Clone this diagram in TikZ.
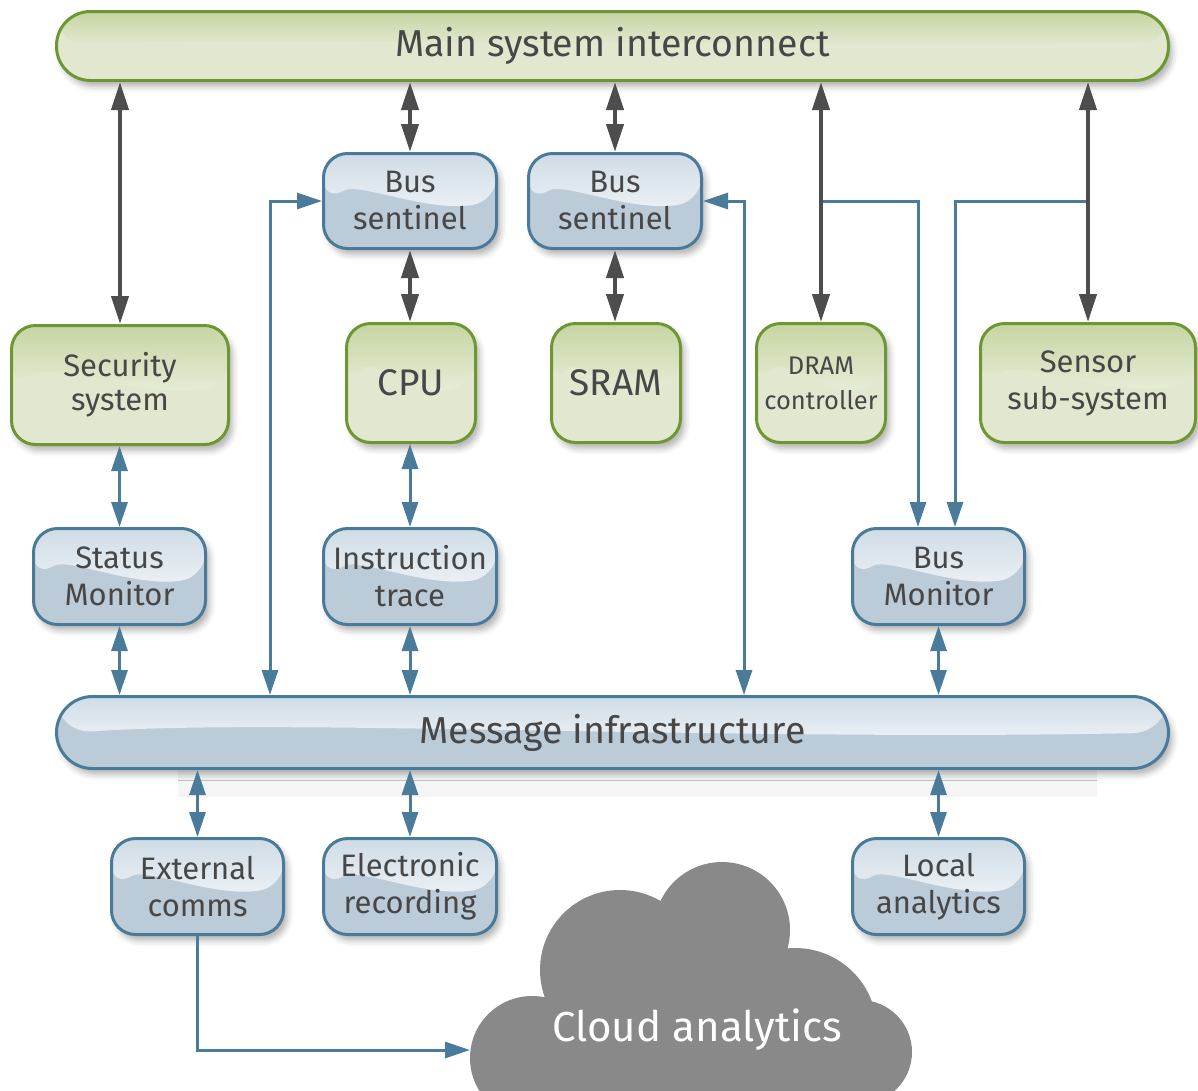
\documentclass[tikz,border=0pt]{standalone}
\usepackage{fontspec}
\setmainfont{Fira Sans}
\usetikzlibrary{arrows.meta,calc,shadows.blur}
\definecolor{grnB}{HTML}{6E9632}
\definecolor{grnTop}{HTML}{C6D5A3}
\definecolor{grnBot}{HTML}{E2E8CF}
\definecolor{bluB}{HTML}{4A7A99}
\definecolor{bluTop}{HTML}{CFDCE6}
\definecolor{bluBot}{HTML}{BCCBD8}
\definecolor{darkA}{HTML}{4D4D4D}
\definecolor{bluA}{HTML}{4A7B9B}
\definecolor{txt}{HTML}{474747}
\definecolor{cloudc}{HTML}{898989}
\newcommand\fA{\fontsize{31}{37}\selectfont}
\newcommand\fB{\fontsize{37.5}{42}\selectfont}
\newcommand\fD{\fontsize{37}{42}\selectfont}
\newcommand\fC{\fontsize{25.5}{35}\selectfont}
\tikzset{
 glass/.style={path picture={\shade[top color=#1, bottom color=white] let \p1=(path picture bounding box.north west), \p2=(path picture bounding box.south east) in (\x1,\y1) -- (\x2,\y1) -- (\x2,{\y1+0.50*(\y2-\y1)}) .. controls ({\x1+0.6*(\x2-\x1)},{\y1+0.62*(\y2-\y1)}) and ({\x1+0.2*(\x2-\x1)},{\y1+0.30*(\y2-\y1)}) .. (\x1,{\y1+0.52*(\y2-\y1)}) -- cycle;}},
 boxbase/.style={rectangle, rounded corners=24pt, line width=3pt, text=txt, align=center, inner sep=0pt, font=\fA,
   blur shadow={shadow xshift=4pt, shadow yshift=-6pt, shadow blur radius=6pt, shadow opacity=30}},
 gbox/.style={boxbase, draw=grnB, fill=grnBot, glass=grnTop},
 bbox/.style={boxbase, draw=bluB, fill=bluBot, glass=bluTop},
 darr/.style={draw=darkA, line width=4pt, {Triangle[width=17pt,length=28pt]}-{Triangle[width=17pt,length=28pt]}},
 barr/.style={draw=bluA, line width=3pt, {Triangle[width=16pt,length=25pt]}-{Triangle[width=16pt,length=25pt]}},
 barrone/.style={draw=bluA, line width=3pt, -{Triangle[width=16pt,length=25pt]}},
}
\begin{document}
\begin{tikzpicture}[x=1pt,y=-1pt]
\useasboundingbox (0,0) rectangle (1198,1090);
% faint shadow strip under message bar
\fill[black!4] (178,770) rectangle (1097,797);
% nodes
\node[gbox, minimum width=1112pt, minimum height=69pt, rounded corners=34pt, font=\fB] (main) at (612.5,46) {Main system interconnect};
\node[bbox, minimum width=173pt, minimum height=95pt] (sent1) at (410,201) {Bus\\sentinel};
\node[bbox, minimum width=173pt, minimum height=95pt] (sent2) at (615,201) {Bus\\sentinel};
\node[gbox, minimum width=217pt, minimum height=119pt, font=\fontsize{31}{34}\selectfont] (sec) at (120,385) {Security\\system};
\node[gbox, minimum width=129pt, minimum height=119pt, font=\fD] (cpu) at (411,383) {CPU};
\node[gbox, minimum width=129pt, minimum height=119pt, font=\fD] (sram) at (616,383) {SRAM};
\node[gbox, minimum width=129pt, minimum height=119pt, font=\fC] (dram) at (821,383) {DRAM\\controller};
\node[gbox, minimum width=215pt, minimum height=119pt] (sensor) at (1088,383) {Sensor\\sub-system};
\node[bbox, minimum width=172pt, minimum height=96pt] (status) at (119.5,576.5) {Status\\Monitor};
\node[bbox, minimum width=173pt, minimum height=96pt] (itrace) at (410,576.5) {Instruction\\trace};
\node[bbox, minimum width=172pt, minimum height=96pt] (busmon) at (938.5,576.5) {Bus\\Monitor};
\node[bbox, minimum width=1112pt, minimum height=72pt, rounded corners=36pt, font=\fB] (msg) at (612.5,732.5) {Message infrastructure};
\node[bbox, minimum width=172pt, minimum height=96pt] (ext) at (197.5,886.5) {External\\comms};
\node[bbox, minimum width=173pt, minimum height=96pt] (erec) at (410,886.5) {Electronic\\recording};
\node[bbox, minimum width=172pt, minimum height=96pt] (local) at (938.5,886.5) {Local\\analytics};
% cloud
\begin{scope}
\clip (0,0) rectangle (1198,1090);
\fill[cloudc] (620,970) circle (80pt) (722,930) circle (68pt) (795,1030) circle (82pt) (860,1052) circle (52pt) (532,1058) circle (62pt);
\fill[cloudc] (532,1000) rectangle (860,1100);
\fill[cloudc] (600,955) rectangle (790,1100);
\end{scope}
\node[font=\fontsize{42}{46}\selectfont, text=white] (cloud) at (697,1030) {Cloud analytics};
\coordinate (cloudw) at (470,1050);
% helper coordinates
\coordinate (lx) at (270,0);
\coordinate (rx) at (744,0);
\coordinate (bxa) at (918,0);
\coordinate (bxb) at (955,0);
% blue connectors
\draw[barr] (lx |- msg.north) |- (sent1.west);
\draw[barr] (rx |- msg.north) |- (sent2.east);
\draw[barrone] (dram.north |- sent2.east) -| (bxa |- busmon.north);
\draw[barrone] (sensor.north |- sent2.east) -| (bxb |- busmon.north);
\draw[barr] (status.north |- sec.south) -- (status.north);
\draw[barr] (status.south) -- (status.south |- msg.north);
\draw[barr] (itrace.north |- cpu.south) -- (itrace.north);
\draw[barr] (itrace.south) -- (itrace.south |- msg.north);
\draw[barr] (busmon.south) -- (busmon.south |- msg.north);
\draw[barr] (msg.south -| ext.north) -- (ext.north);
\draw[barr] (msg.south -| erec.north) -- (erec.north);
\draw[barr] (msg.south -| local.north) -- (local.north);
\draw[barrone] (ext.south) |- (cloudw);
% dark connectors
\draw[darr] (main.south -| sec.north) -- (sec.north);
\draw[darr] (main.south -| sent1.north) -- (sent1.north);
\draw[darr] (sent1.south) -- (sent1.south |- cpu.north);
\draw[darr] (main.south -| sent2.north) -- (sent2.north);
\draw[darr] (sent2.south) -- (sent2.south |- sram.north);
\draw[darr] (main.south -| dram.north) -- (dram.north);
\draw[darr] (main.south -| sensor.north) -- (sensor.north);
\end{tikzpicture}
\end{document}
